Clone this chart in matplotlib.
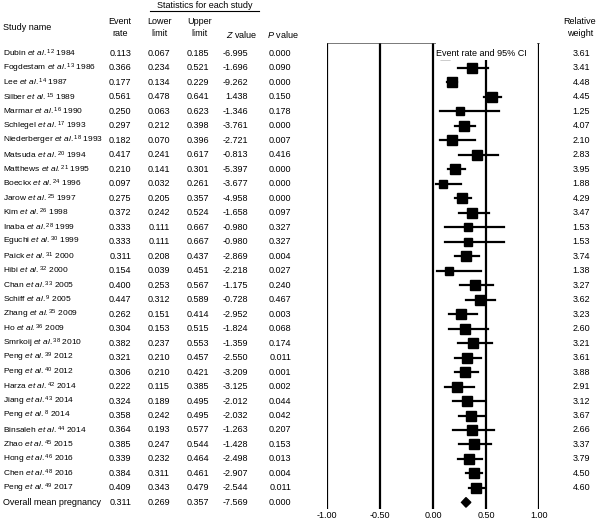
import matplotlib
matplotlib.use('Agg')
import matplotlib.pyplot as plt
import matplotlib.transforms as mtransforms
from matplotlib.patches import Rectangle

plt.rcParams['font.family'] = 'Liberation Sans'
plt.rcParams['mathtext.fontset'] = 'custom'
plt.rcParams['mathtext.rm'] = 'Liberation Sans'
plt.rcParams['mathtext.it'] = 'Liberation Sans:italic'

# ── Données ────────────────────────────────────────────────
authors = ['Dubin', 'Fogdestam', 'Lee', 'Silber', 'Marmar', 'Schlegel',
           'Niederberger', 'Matsuda', 'Matthews', 'Boeckx', 'Jarow', 'Kim',
           'Inaba', 'Eguchi', 'Paick', 'Hibi', 'Chan', 'Schiff', 'Zhang',
           'Ho', 'Smrkoij', 'Peng', 'Peng', 'Harza', 'Jiang', 'Peng',
           'Binsaleh', 'Zhao', 'Hong', 'Chen', 'Peng']
refs = ['12', '13', '14', '15', '16', '17', '18', '20', '21', '24', '25', '26',
        '28', '30', '31', '32', '33', '9', '35', '36', '38', '39', '40', '42',
        '43', '8', '44', '45', '46', '48', '49']
years = ['1984', '1986', '1987', '1989', '1990', '1993', '1993', '1994',
         '1995', '1996', '1997', '1998', '1999', '1999', '2000', '2000',
         '2005', '2005', '2009', '2009', '2010', '2012', '2012', '2014',
         '2014', '2014', '2014', '2015', '2016', '2016', '2017']
event_rate = [0.113, 0.366, 0.177, 0.561, 0.250, 0.297, 0.182, 0.417, 0.210,
              0.097, 0.275, 0.372, 0.333, 0.333, 0.311, 0.154, 0.400, 0.447,
              0.262, 0.304, 0.382, 0.321, 0.306, 0.222, 0.324, 0.358, 0.364,
              0.385, 0.339, 0.384, 0.409]
lower = [0.067, 0.234, 0.134, 0.478, 0.063, 0.212, 0.070, 0.241, 0.141,
         0.032, 0.205, 0.242, 0.111, 0.111, 0.208, 0.039, 0.253, 0.312,
         0.151, 0.153, 0.237, 0.210, 0.210, 0.115, 0.189, 0.242, 0.193,
         0.247, 0.232, 0.311, 0.343]
upper = [0.185, 0.521, 0.229, 0.641, 0.623, 0.398, 0.396, 0.617, 0.301,
         0.261, 0.357, 0.524, 0.667, 0.667, 0.437, 0.451, 0.567, 0.589,
         0.414, 0.515, 0.553, 0.457, 0.421, 0.385, 0.495, 0.495, 0.577,
         0.544, 0.464, 0.461, 0.479]
z_value = [-6.995, -1.696, -9.262, 1.438, -1.346, -3.761, -2.721, -0.813,
           -5.397, -3.677, -4.958, -1.658, -0.980, -0.980, -2.869, -2.218,
           -1.175, -0.728, -2.952, -1.824, -1.359, -2.550, -3.209, -3.125,
           -2.012, -2.032, -1.263, -1.428, -2.498, -2.907, -2.544]
p_value = [0.000, 0.090, 0.000, 0.150, 0.178, 0.000, 0.007, 0.416, 0.000,
           0.000, 0.000, 0.097, 0.327, 0.327, 0.004, 0.027, 0.240, 0.467,
           0.003, 0.068, 0.174, 0.011, 0.001, 0.002, 0.044, 0.042, 0.207,
           0.153, 0.013, 0.004, 0.011]
weights = [3.61, 3.41, 4.48, 4.45, 1.25, 4.07, 2.10, 2.83, 3.95, 1.88, 4.29,
           3.47, 1.53, 1.53, 3.74, 1.38, 3.27, 3.62, 3.23, 2.60, 3.21, 3.61,
           3.88, 2.91, 3.12, 3.67, 2.66, 3.37, 3.79, 4.50, 4.60]

overall_label = 'Overall mean pregnancy'
overall = [0.311, 0.269, 0.357, -7.569, 0.000]  # taux, bas, haut, Z, P

x_ticks = [-1.0, -0.5, 0.0, 0.5, 1.0]

# ── Figure ─────────────────────────────────────────────────
W, H = 600, 523
fig = plt.figure(figsize=(W / 100, H / 100), dpi=100)

ax_top, ax_bot = 43, 509          # pixels
row0, row_h = 53.5, 14.48
ax = fig.add_axes([327 / W, (H - ax_bot) / H, 212 / W, (ax_bot - ax_top) / H])
ax.set_xlim(-1, 1)
ax.set_ylim((ax_bot - row0) / row_h, (ax_top - row0) / row_h)
for s in ['left', 'right', 'bottom']:
    ax.spines[s].set_visible(False)
ax.spines['top'].set_linewidth(0.5)
ax.spines['top'].set_color('#444444')
ax.set_yticks([])
ax.set_xticks(x_ticks)
ax.set_xticklabels([f'{t:.2f}' for t in x_ticks], fontsize=6.5)
ax.tick_params(axis='x', length=0, pad=1.5)
for t in x_ticks:
    ax.axvline(t, color='black', linewidth=1.6, zorder=1)

n = len(event_rate)
rows = list(range(n))
for i in rows:
    ax.plot([lower[i], upper[i]], [i, i], color='black', linewidth=1.6, zorder=3)
    ax.plot(event_rate[i], i, marker='s', color='black',
            markersize=6.0 + 0.25 * weights[i], zorder=4)

# losange global
i_ov = n
est, lo, hi = overall[0], overall[1], overall[2]
ax.fill([lo, est, hi, est], [i_ov, i_ov - 0.33, i_ov, i_ov + 0.33],
        color='black', zorder=4)

# cache blanc + légende de la colonne
ax.add_patch(Rectangle((0.025, ax.get_ylim()[1]), 0.955,
                       0.45 - ax.get_ylim()[1], facecolor='white',
                       edgecolor='none', zorder=5))
ax.text(0.03, 0, 'Event rate and 95% CI', fontsize=6.5, va='center',
        ha='left', zorder=6)

# ── Tableau ────────────────────────────────────────────────
tr = mtransforms.blended_transform_factory(fig.transFigure, ax.transData)
fs = 6.5
col_right = {'rate': 131, 'low': 170, 'up': 209, 'z': 248, 'p': 291, 'w': 590}

labels = [a + r' $\mathit{et}$ $\mathit{al.}^{' + r + '}$ ' + y
          for a, r, y in zip(authors, refs, years)]
for i in rows:
    ax.text(3 / W, i, labels[i], transform=tr, fontsize=6.0, va='center',
            ha='left', clip_on=False)
    vals = [event_rate[i], lower[i], upper[i], z_value[i], p_value[i]]
    for key, v in zip(['rate', 'low', 'up', 'z', 'p'], vals):
        ax.text(col_right[key] / W, i, f'{v:.3f}', transform=tr, fontsize=fs,
                va='center', ha='right', clip_on=False)
    ax.text(col_right['w'] / W, i, f'{weights[i]:.2f}', transform=tr,
            fontsize=fs, va='center', ha='right', clip_on=False)

ax.text(3 / W, i_ov, overall_label, transform=tr, fontsize=fs, va='center',
        ha='left', clip_on=False)
for key, v in zip(['rate', 'low', 'up', 'z', 'p'], overall):
    ax.text(col_right[key] / W, i_ov, f'{v:.3f}', transform=tr, fontsize=fs,
            va='center', ha='right', clip_on=False)

# ── En-têtes ───────────────────────────────────────────────
def fig_txt(x, y, s, **kw):
    fig.text(x / W, 1 - y / H, s, fontsize=fs, va='center', **kw)

fig_txt(205, 6, 'Statistics for each study', ha='center')
fig.add_artist(plt.Line2D([150 / W, 259 / W], [1 - 11 / H, 1 - 11 / H],
                          color='black', linewidth=0.8))
fig_txt(3, 27, 'Study name', ha='left')
fig_txt(120, 21, 'Event', ha='center')
fig_txt(120, 34, 'rate', ha='center')
fig_txt(160, 21, 'Lower', ha='center')
fig_txt(160, 34, 'limit', ha='center')
fig_txt(200, 21, 'Upper', ha='center')
fig_txt(199, 34, 'limit', ha='center')
fig_txt(242, 34, r'$\mathit{Z}$ value', ha='center')
fig_txt(283, 34, r'$\mathit{P}$ value', ha='center')
fig_txt(580, 21, 'Relative', ha='center')
fig_txt(580, 34, 'weight', ha='center')

fig.savefig('out.png', dpi=100)
plt.close()
